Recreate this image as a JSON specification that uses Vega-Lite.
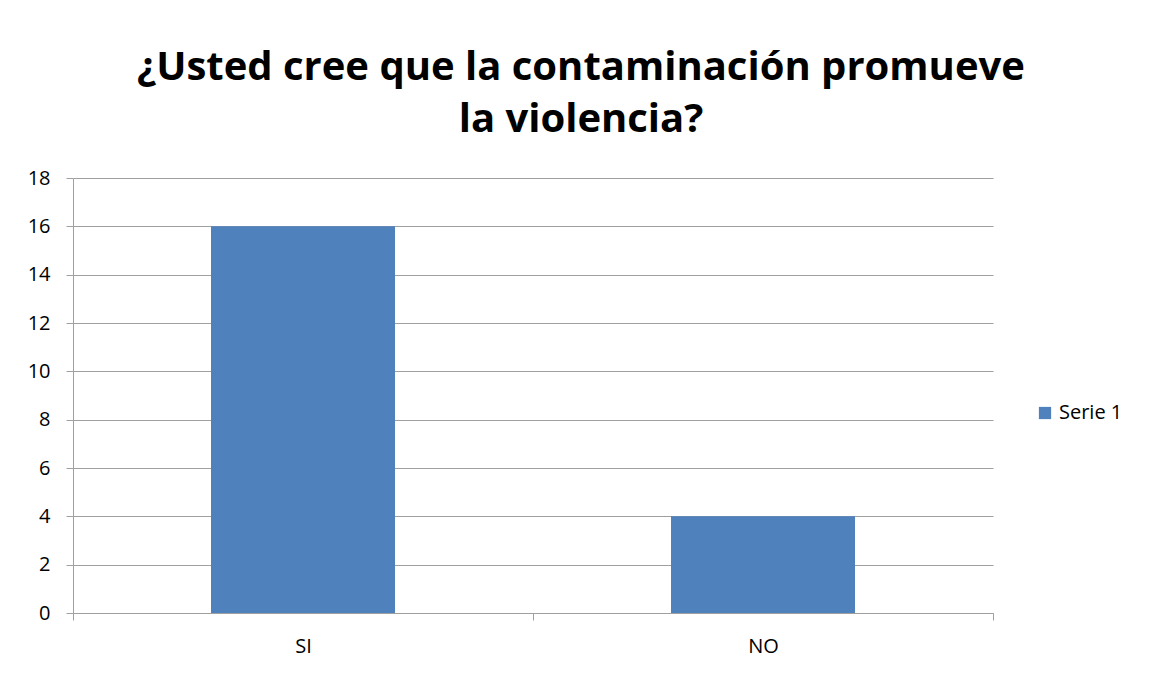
{
  "$schema": "https://vega.github.io/schema/vega-lite/v6.json",
  "width": 920,
  "height": 435,
  "autosize": {"type": "none"},
  "padding": {"left": 73, "top": 178, "right": 158, "bottom": 63},
  "background": "white",
  "title": {
    "text": ["¿Usted cree que la contaminación promueve", "la violencia?"],
    "font": "Open Sans",
    "fontSize": 40,
    "fontWeight": "bold",
    "color": "black",
    "lineHeight": 52,
    "anchor": "middle",
    "dx": 48,
    "offset": 28
  },
  "data": {
    "values": [
      {"respuesta": "SI", "valor": 16, "serie": "Serie 1"},
      {"respuesta": "NO", "valor": 4, "serie": "Serie 1"}
    ]
  },
  "mark": {"type": "bar", "width": {"band": 0.4}},
  "encoding": {
    "x": {
      "field": "respuesta",
      "type": "nominal",
      "sort": ["SI", "NO"],
      "title": null,
      "scale": {"paddingInner": 0, "paddingOuter": 0},
      "axis": {
        "tickBand": "extent",
        "labelAngle": 0,
        "labelFont": "Open Sans",
        "labelFontSize": 20,
        "labelColor": "black",
        "labelPadding": 16,
        "domainColor": "#a0a0a0",
        "tickColor": "#a0a0a0",
        "tickSize": 7,
        "grid": false
      }
    },
    "y": {
      "field": "valor",
      "type": "quantitative",
      "title": null,
      "scale": {"domain": [0, 18]},
      "axis": {
        "values": [0, 2, 4, 6, 8, 10, 12, 14, 16, 18],
        "labelFont": "Open Sans",
        "labelFontSize": 20,
        "labelColor": "black",
        "labelPadding": 16,
        "domainColor": "#a0a0a0",
        "tickColor": "#a0a0a0",
        "tickSize": 7,
        "gridColor": "#a0a0a0"
      }
    },
    "color": {
      "field": "serie",
      "type": "nominal",
      "scale": {"range": ["#4F81BD"]},
      "legend": {
        "title": null,
        "orient": "none",
        "legendX": 962,
        "legendY": 225,
        "symbolType": "square",
        "symbolSize": 150,
        "symbolStrokeWidth": 0,
        "labelFont": "Open Sans",
        "labelFontSize": 20,
        "labelColor": "black"
      }
    }
  },
  "config": {"view": {"stroke": null}}
}
